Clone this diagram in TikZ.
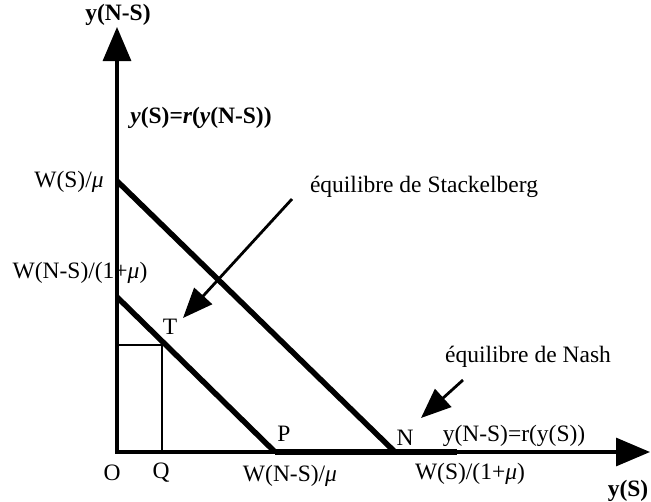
\documentclass[tikz,border=0pt]{standalone}
\usepackage{fontspec}
\setmainfont{Liberation Serif}
\usetikzlibrary{arrows.meta}
\tikzset{
  axis/.style={line width=3.2pt,-{Triangle[length=34pt,width=28pt]}},
  thick line/.style={line width=5.5pt},
  thin line/.style={line width=2pt},
  pointer/.style={line width=2.8pt,-{Triangle[length=30pt,width=24pt]}},
  lbl/.style={font=\fontsize{23.5}{26}\selectfont, inner sep=0pt},
}
\begin{document}
\begin{tikzpicture}[x=1pt,y=-1pt]
\useasboundingbox (0,0) rectangle (651,501);
% key coordinates
\coordinate (O) at (117,452);
\coordinate (Ytop) at (117,27);
\coordinate (Xend) at (650,452);
\coordinate (A) at (117,181);
\coordinate (N) at (395,452);
\coordinate (B) at (117,297);
\coordinate (P) at (275,452);
\coordinate (T) at (162,345);
\coordinate (Q) at (162,452);
\coordinate (TY) at (117,345);
\coordinate (E) at (457,452);
\coordinate (S1) at (292,199);
\coordinate (S2) at (183,318);
\coordinate (N1) at (463,380);
\coordinate (N2) at (421,418);
% axes
\draw[axis] ([yshift=1.6pt]O) -- (Ytop);
\draw[axis] ([xshift=-1.6pt]O) -- (Xend);
% reaction lines
\draw[thick line] (A) -- (N);
\draw[thick line] (B) -- (P);
\draw[thick line, line cap=butt] (P) -- (E);
% T lines
\draw[thin line] (TY) -- (T) -- (Q);
% pointers
\draw[pointer] (S1) -- (S2);
\draw[pointer] (N1) -- (N2);
% labels
\node[lbl] (lY) at (118,15) {\bfseries y(N-S)};
\node[lbl] (lX) at (628,491) {\bfseries y(S)};
\node[lbl] (lR1) at (201,118) {\bfseries\itshape y\upshape(S)=\itshape r\upshape(\itshape y\upshape(N-S))};
\node[lbl] (lWS) at (69,182) {W(S)/\textit{μ}};
\node[lbl] (lWNS) at (80,273) {W(N-S)/(1+\textit{μ})};
\node[lbl] (lT) at (170,327) {T};
\node[lbl] (lO) at (112,473) {O};
\node[lbl] (lQ) at (161,473) {Q};
\node[lbl] (lP) at (284,434) {P};
\node[lbl] (lN) at (405,438) {N};
\node[lbl] (lWNSm) at (290,476) {W(N-S)/\textit{μ}};
\node[lbl] (lWS1) at (470,474) {W(S)/(1+\textit{μ})};
\node[lbl] (lR2) at (514,436) {y(N-S)=r(y(S))};
\node[lbl] (lStack) at (424,187) {équilibre de Stackelberg};
\node[lbl] (lNash) at (528,357) {équilibre de Nash};
\end{tikzpicture}
\end{document}
